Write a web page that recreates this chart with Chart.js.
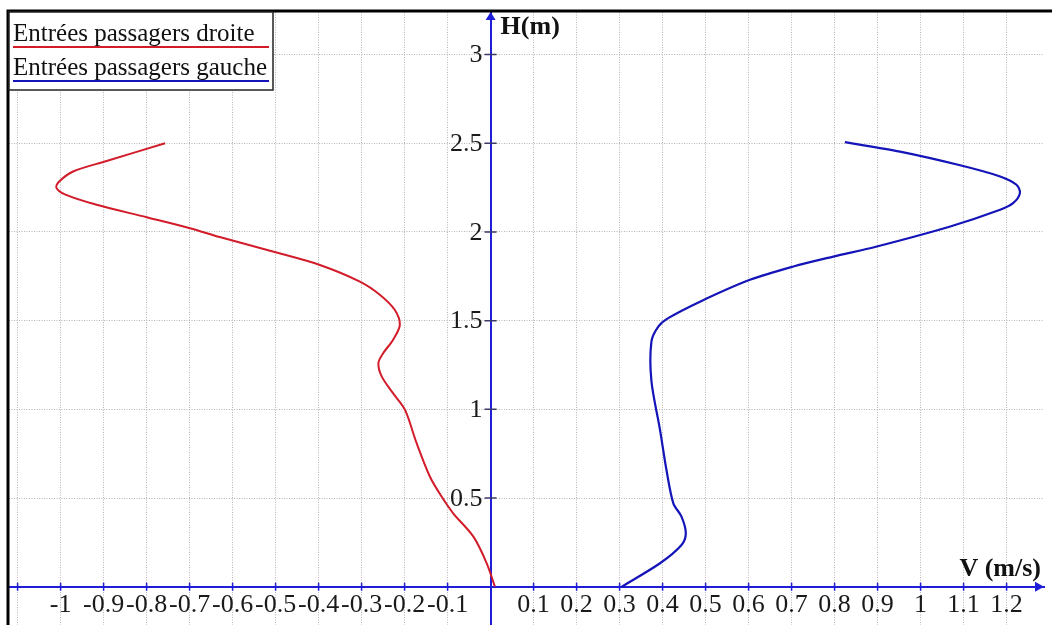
<!DOCTYPE html>
<html lang="fr">
<head>
<meta charset="UTF-8">
<title>Profils de vitesse - entrées passagers</title>
<script src="https://cdn.jsdelivr.net/npm/chart.js"></script>
<style>
  html, body { margin: 0; padding: 0; background: #fff; }
  .wrap { position: relative; width: 1052px; height: 625px; }
</style>
</head>
<body>
<div class="wrap"><canvas id="profil"></canvas></div>
<script>
// Entrées passagers droite : vitesse V (m/s) selon la hauteur H (m)
const hDroite = [2.50, 2.40, 2.341, 2.283, 2.25, 2.212, 2.153, 2.083, 2.021, 1.971, 1.884, 1.814,
  1.72, 1.645, 1.561, 1.476, 1.391, 1.316, 1.26, 1.184, 1.091, 0.997, 0.809, 0.62, 0.508, 0.414,
  0.282, 0.132, 0.0];
const vDroite = [-0.757, -0.893, -0.971, -1.004, -1.01, -0.99, -0.916, -0.80, -0.699, -0.63, -0.498, -0.397,
  -0.304, -0.257, -0.223, -0.211, -0.227, -0.25, -0.261, -0.253, -0.227, -0.199, -0.172, -0.141, -0.114, -0.087,
  -0.04, -0.009, 0.01];

// Entrées passagers gauche
const hGauche = [2.506, 2.453, 2.376, 2.313, 2.266, 2.219, 2.162, 2.125, 2.031, 1.918, 1.861, 1.805,
  1.73, 1.607, 1.514, 1.466, 1.382, 1.16, 0.884, 0.658, 0.47, 0.395, 0.301, 0.235, 0.132, 0.0];
const vGauche = [0.824, 0.952, 1.092, 1.185, 1.223, 1.231, 1.215, 1.185, 1.069, 0.898, 0.797, 0.704,
  0.603, 0.487, 0.413, 0.39, 0.374, 0.374, 0.394, 0.409, 0.425, 0.444, 0.454, 0.444, 0.394, 0.305];

const seriesLabels = ['Entrées passagers droite', 'Entrées passagers gauche'];
const seriesColors = ['#d21c2a', '#1414b8'];

// étendue des axes et pas des graduations
const xRange = [-1.12, 1.287];
const yRange = [-0.216, 3.24];
const xStep = 0.1;
const yStep = 0.5;
const xLabelLimits = [-1.05, 1.25];

const axisBlue = '#1e1ed8';
const serif = '"Liberation Serif", "Times New Roman", serif';

function toPoints(vs, hs) {
  return vs.map((v, i) => ({ x: v, y: hs[i] }));
}

function fmt(v) {
  return String(Math.round(v * 10) / 10);
}

// les axes passent par l'origine : pas de marge réservée aux étiquettes
function noPadding(scale) {
  scale.paddingTop = 0;
  scale.paddingBottom = 0;
  scale.paddingLeft = 0;
  scale.paddingRight = 0;
}

// axes fléchés, graduations croisées, étiquettes de H, titres, cadre et légende soulignée
const decor = {
  id: 'decor',
  afterDraw(chart) {
    const { ctx, chartArea: a, scales: { x, y } } = chart;
    const x0 = x.getPixelForValue(0);
    const y0 = y.getPixelForValue(0);
    ctx.save();

    ctx.strokeStyle = axisBlue;
    ctx.lineWidth = 1.5;
    ctx.beginPath();
    x.ticks.forEach(t => {
      if (t.value === 0) return;
      const px = x.getPixelForValue(t.value);
      ctx.moveTo(px, y0 - 4);
      ctx.lineTo(px, y0 + 4);
    });
    ctx.stroke();
    ctx.strokeStyle = '#3a3a6a';
    ctx.beginPath();
    y.ticks.forEach(t => {
      if (t.value === 0) return;
      const py = y.getPixelForValue(t.value);
      ctx.moveTo(x0 - 6, py);
      ctx.lineTo(x0 + 6, py);
    });
    ctx.stroke();

    // étiquettes de l'axe H, à gauche des graduations
    ctx.fillStyle = '#1a1a1a';
    ctx.font = '26px ' + serif;
    ctx.textAlign = 'right';
    ctx.textBaseline = 'middle';
    y.ticks.forEach(t => {
      if (t.value === 0) return;
      ctx.fillText(fmt(t.value), x0 - 8, y.getPixelForValue(t.value) + 1);
    });

    ctx.fillStyle = axisBlue;
    ctx.beginPath();
    ctx.moveTo(x0, a.top);
    ctx.lineTo(x0 - 5, a.top + 8);
    ctx.lineTo(x0 + 5, a.top + 8);
    ctx.closePath();
    ctx.fill();
    ctx.beginPath();
    ctx.moveTo(a.right, y0);
    ctx.lineTo(a.right - 9, y0 - 5);
    ctx.lineTo(a.right - 9, y0 + 5);
    ctx.closePath();
    ctx.fill();

    ctx.fillStyle = '#111';
    ctx.font = 'bold 26px ' + serif;
    ctx.textBaseline = 'middle';
    ctx.textAlign = 'left';
    ctx.fillText('H(m)', x0 + 10, a.top + 15);
    ctx.textAlign = 'right';
    ctx.fillText('V (m/s)', a.right - 3, y0 - 17);

    // cadre
    ctx.strokeStyle = '#000';
    ctx.lineWidth = 3;
    ctx.beginPath();
    ctx.moveTo(a.left - 1, chart.height);
    ctx.lineTo(a.left - 1, a.top - 1);
    ctx.lineTo(chart.width, a.top - 1);
    ctx.stroke();

    // légende
    const bx = a.left, by = a.top, bw = 264, bh = 78;
    ctx.fillStyle = '#fff';
    ctx.fillRect(bx, by, bw, bh);
    ctx.strokeStyle = '#222';
    ctx.lineWidth = 1.5;
    ctx.strokeRect(bx, by, bw, bh);
    ctx.font = '25px ' + serif;
    ctx.textAlign = 'left';
    ctx.textBaseline = 'alphabetic';
    chart.data.datasets.forEach((ds, i) => {
      const base = by + 29 + i * 34;
      ctx.fillStyle = '#111';
      ctx.fillText(ds.label, bx + 4, base);
      ctx.strokeStyle = ds.borderColor;
      ctx.lineWidth = 2;
      ctx.beginPath();
      ctx.moveTo(bx + 4, base + 6);
      ctx.lineTo(bx + bw - 4, base + 6);
      ctx.stroke();
    });

    ctx.restore();
  }
};

new Chart(document.getElementById('profil'), {
  type: 'scatter',
  data: {
    datasets: [
      {
        label: seriesLabels[0],
        data: toPoints(vDroite, hDroite),
        borderColor: seriesColors[0],
        backgroundColor: seriesColors[0],
        borderWidth: 2,
        showLine: true,
        pointRadius: 0,
        tension: 0.3
      },
      {
        label: seriesLabels[1],
        data: toPoints(vGauche, hGauche),
        borderColor: seriesColors[1],
        backgroundColor: seriesColors[1],
        borderWidth: 2.2,
        showLine: true,
        pointRadius: 0,
        tension: 0.3
      }
    ]
  },
  options: {
    responsive: true,
    maintainAspectRatio: false,
    animation: false,
    layout: { padding: { left: 9, top: 12, right: 8, bottom: 0 } },
    plugins: {
      legend: { display: false },
      tooltip: { enabled: false }
    },
    scales: {
      x: {
        type: 'linear',
        position: { y: 0 },
        min: xRange[0],
        max: xRange[1],
        afterFit: noPadding,
        grid: { color: '#b4b4b4', lineWidth: 1, drawTicks: false },
        border: { color: axisBlue, width: 2, dash: [1, 1.5] },
        ticks: {
          stepSize: xStep,
          includeBounds: false,
          autoSkip: false,
          maxRotation: 0,
          padding: 3,
          color: '#1a1a1a',
          font: { family: serif, size: 26 },
          callback: v => (Math.abs(v) < 1e-9 || v < xLabelLimits[0] || v > xLabelLimits[1]) ? '' : fmt(v)
        }
      },
      y: {
        type: 'linear',
        position: { x: 0 },
        min: yRange[0],
        max: yRange[1],
        afterFit: noPadding,
        grid: { color: '#b4b4b4', lineWidth: 1, drawTicks: false },
        border: { color: axisBlue, width: 2, dash: [1, 1.5] },
        ticks: {
          display: false,
          stepSize: yStep,
          includeBounds: false
        }
      }
    }
  },
  plugins: [decor]
});
</script>
</body>
</html>
